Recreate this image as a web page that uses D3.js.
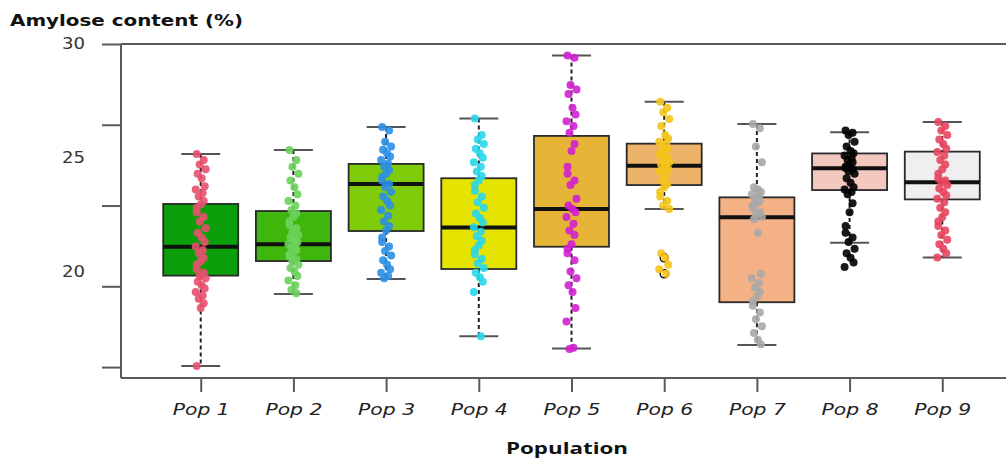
<!DOCTYPE html>
<html><head><meta charset="utf-8">
<script src="https://cdn.jsdelivr.net/npm/d3@7"></script>
<style>html,body{margin:0;padding:0;background:#fff;}svg{display:block;}</style>
</head><body>
<svg id="c" width="1006" height="461"></svg>
<script>
// ---- data ----
const populations = ["Pop 1","Pop 2","Pop 3","Pop 4","Pop 5","Pop 6","Pop 7","Pop 8","Pop 9"];
const yTickLabels = [30, 25, 20];
const yTickMarks = [30, 26.45, 22.9, 19.35, 15.8];
const whiskerHigh = [25.17, 25.34, 26.35, 26.73, 29.49, 27.46, 26.48, 26.12, 26.57];
const q3 =          [22.97, 22.66, 24.73, 24.10, 25.96, 25.62, 23.26, 25.19, 25.27];
const median =      [21.09, 21.20, 23.85, 21.94, 22.75, 24.65, 22.38, 24.54, 23.92];
const q1 =          [19.82, 20.46, 21.78, 20.11, 21.09, 23.80, 18.65, 23.58, 23.17];
const whiskerLow =  [15.85, 19.01, 19.67, 17.16, 16.62, 22.75, 16.77, 21.27, 20.62];
const outliers = [[], [], [], [], [], [20.6, 19.9], [], [], []];
const pop1 = [25.16,24.9,24.7,24.5,24.3,24.1,23.75,23.6,23.45,23.3,23.1,22.95,22.8,22.6,22.4,22.2,21.9,21.7,21.5,21.3,21.1,20.95,20.8,20.6,20.45,20.3,20.1,19.95,19.8,19.7,19.55,19.4,19.25,19.1,18.95,18.8,18.6,18.4,15.85];
const pop2 = [25.34,24.9,24.6,24.3,24.0,23.7,23.4,23.1,22.9,22.7,22.55,22.4,22.2,22.05,21.9,21.75,21.6,21.5,21.4,21.3,21.2,21.15,21.05,20.95,20.85,20.75,20.65,20.55,20.45,20.3,20.15,20.0,19.8,19.6,19.4,19.2,19.05];
const pop3 = [26.35,26.2,25.7,25.5,25.35,25.2,25.05,24.9,24.75,24.6,24.45,24.3,24.15,24.0,23.85,23.7,23.5,23.3,23.1,22.9,22.7,22.45,22.2,22.0,21.8,21.5,21.3,21.1,20.9,20.7,20.5,20.3,20.1,19.95,19.8,19.7];
const pop4 = [26.73,26.0,25.8,25.6,25.4,25.2,25.0,24.8,24.6,24.4,24.2,24.0,23.8,23.55,23.3,23.05,22.8,22.55,22.35,22.15,21.95,21.75,21.55,21.35,21.15,20.95,20.75,20.55,20.35,20.15,19.95,19.75,19.55,19.1,17.16];
const pop5 = [29.49,29.4,28.2,28.0,27.8,27.2,26.9,26.6,26.4,26.1,25.6,25.3,24.6,24.3,24.0,23.8,23.2,22.9,22.75,22.6,22.4,22.1,21.8,21.6,21.2,21.0,20.8,20.5,20.0,19.7,19.4,19.1,18.4,17.8,16.65,16.6];
const pop6 = [27.46,27.2,27.0,26.7,26.4,26.0,25.85,25.7,25.6,25.5,25.4,25.3,25.2,25.1,25.0,24.9,24.8,24.7,24.65,24.5,24.4,24.2,24.0,23.85,23.7,23.5,23.3,23.1,22.9,22.75,20.8,20.6,20.3,20.1,19.9];
const pop7 = [26.48,26.3,25.5,24.8,23.7,23.6,23.5,23.4,23.3,23.2,23.1,23.0,22.9,22.8,22.6,22.5,22.4,22.3,21.7,19.9,19.7,19.5,19.3,19.1,18.9,18.7,18.5,18.2,17.9,17.6,17.3,17.0,16.8];
const pop8 = [26.2,26.1,26.0,25.7,25.5,25.3,25.2,25.1,25.0,24.9,24.8,24.7,24.6,24.55,24.5,24.4,24.3,24.1,23.9,23.7,23.6,23.5,23.4,23.0,22.6,22.0,21.7,21.5,21.3,21.0,20.8,20.6,20.4,20.2];
const pop9 = [26.57,26.4,26.2,26.0,25.8,25.6,25.4,25.25,25.1,24.9,24.7,24.5,24.3,24.1,24.0,23.92,23.8,23.65,23.5,23.35,23.2,23.05,22.8,22.6,22.4,22.2,22.0,21.8,21.6,21.4,21.2,21.0,20.8,20.62];
const points = [pop1,pop2,pop3,pop4,pop5,pop6,pop7,pop8,pop9];
const boxColors = ["#0c9f0c","#3fb60c","#80cb0a","#e4e400","#e6b436","#ecb46a","#f4b185","#f3c9bf","#efefef"];
const pointColors = ["#e8506e","#6cd25c","#2c8fe4","#2ad6ea","#d020d0","#f4c41a","#a9a9a9","#000000","#e8465f"];

// ---- chart ----
const svg = d3.select("#c");
const x = d3.scalePoint().domain(populations).range([121, 1022]).padding(0.86);
const y = d3.scaleLinear().domain([15.32, 30]).range([378, 44]);
const boxW = 75, capW = 39;
const jit = [-4, 3, -1, 5, -3, 1, 4, -5, 2, -2, 3, 0, -4];

// frame
const frame = svg.append("g").attr("stroke", "#5a5a5a").attr("stroke-width", 2).attr("fill", "none");
frame.append("line").attr("x1", 121).attr("x2", 1006).attr("y1", y(30)).attr("y2", y(30));
frame.append("line").attr("x1", 121).attr("x2", 1006).attr("y1", y(15.32)).attr("y2", y(15.32));
frame.append("line").attr("x1", 121).attr("x2", 121).attr("y1", y(30)).attr("y2", y(15.32));

// y tick marks
const yMarks = svg.append("g").attr("transform", "translate(121,0)")
  .call(d3.axisLeft(y).tickValues(yTickMarks).tickSize(19).tickFormat(""));
yMarks.select(".domain").remove();
yMarks.selectAll("line").attr("stroke", "#5a5a5a").attr("stroke-width", 2);
// y labels
const yLab = svg.append("g").attr("transform", "translate(121,0)")
  .call(d3.axisLeft(y).tickValues(yTickLabels).tickSize(0).tickPadding(36));
yLab.select(".domain").remove();
yLab.selectAll("text").attr("font-family", "DejaVu Sans").attr("font-size", 15).attr("fill", "#333")
  .attr("textLength", 23).attr("lengthAdjust", "spacingAndGlyphs");

// x axis
const xAx = svg.append("g").attr("transform", "translate(0,378)")
  .call(d3.axisBottom(x).tickSize(14).tickPadding(12));
xAx.select(".domain").remove();
xAx.selectAll("line").attr("stroke", "#5a5a5a").attr("stroke-width", 2);
xAx.selectAll("text").attr("font-family", "DejaVu Sans").attr("font-style", "italic")
  .attr("font-size", 16).attr("fill", "#222")
  .attr("textLength", 57).attr("lengthAdjust", "spacingAndGlyphs");

// boxes
const g = svg.append("g");
populations.forEach((p, i) => {
  const cx = x(p);
  const gg = g.append("g");
  gg.append("line").attr("x1", cx).attr("x2", cx).attr("y1", y(whiskerHigh[i])).attr("y2", y(q3[i]))
    .attr("stroke", "#222").attr("stroke-width", 2).attr("stroke-dasharray", "4,3");
  gg.append("line").attr("x1", cx).attr("x2", cx).attr("y1", y(q1[i])).attr("y2", y(whiskerLow[i]))
    .attr("stroke", "#222").attr("stroke-width", 2).attr("stroke-dasharray", "4,3");
  [whiskerHigh[i], whiskerLow[i]].forEach(v => {
    gg.append("line").attr("x1", cx - capW / 2).attr("x2", cx + capW / 2).attr("y1", y(v)).attr("y2", y(v))
      .attr("stroke", "#555").attr("stroke-width", 2);
  });
  gg.append("rect").attr("x", cx - boxW / 2).attr("width", boxW)
    .attr("y", y(q3[i])).attr("height", y(q1[i]) - y(q3[i]))
    .attr("fill", boxColors[i]).attr("stroke", "#2a2a2a").attr("stroke-width", 1.8);
  gg.append("line").attr("x1", cx - boxW / 2).attr("x2", cx + boxW / 2).attr("y1", y(median[i])).attr("y2", y(median[i]))
    .attr("stroke", "#111").attr("stroke-width", 4);
  outliers[i].forEach(v => {
    gg.append("circle").attr("cx", cx).attr("cy", y(v)).attr("r", 4).attr("fill", "none").attr("stroke", "#111").attr("stroke-width", 1.5);
  });
});

// points
populations.forEach((p, i) => {
  const cx = x(p);
  g.append("g").selectAll("circle").data(points[i]).join("circle")
    .attr("cx", (d, k) => cx + jit[k % jit.length])
    .attr("cy", d => y(d))
    .attr("r", 4)
    .attr("fill", pointColors[i]).attr("fill-opacity", 0.9);
});

// titles
svg.append("text").attr("x", 10).attr("y", 26).text("Amylose content (%)")
  .attr("font-family", "DejaVu Sans").attr("font-weight", "bold").attr("font-size", 15).attr("fill", "#111")
  .attr("textLength", 233).attr("lengthAdjust", "spacingAndGlyphs");
svg.append("text").attr("x", 567).attr("y", 454).attr("text-anchor", "middle").text("Population")
  .attr("font-family", "Open Sans").attr("font-weight", "bold").attr("font-size", 16).attr("fill", "#111")
  .attr("textLength", 122).attr("lengthAdjust", "spacingAndGlyphs");
</script>
</body></html>
